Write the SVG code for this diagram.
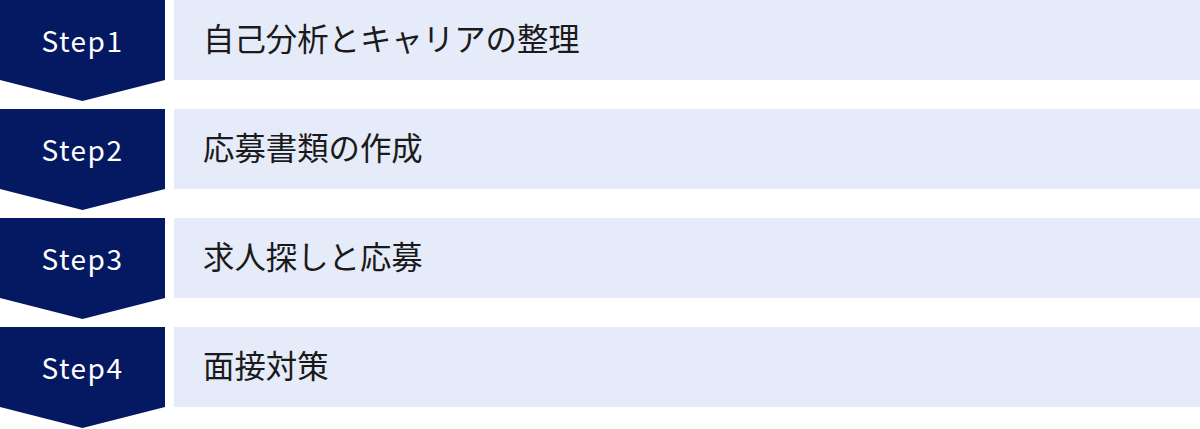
<svg xmlns="http://www.w3.org/2000/svg" width="1200" height="429" viewBox="0 0 1200 429">
<style>
.badge{fill:#051862}
.panel{fill:#E5EBF8}
.st{font-family:"Noto Sans CJK JP","Noto Sans",sans-serif;font-size:28px;font-weight:400;fill:#ffffff;letter-spacing:1.5px}
.lb{font-family:"Noto Sans CJK JP","Noto Sans",sans-serif;font-size:31.4px;font-weight:400;fill:#1a1a1a}
</style>
<defs>
<path id="chev" d="M0 0H165V80L82.5 101L0 80Z"/>
</defs>
<g id="step1">
<use href="#chev" class="badge"/>
<rect class="panel" x="174" y="0" width="1026" height="80"/>
<text class="st" x="82.5" y="52" text-anchor="middle">Step1</text>
<text class="lb" x="203" y="51">自己分析とキャリアの整理</text>
</g>
<g id="step2" transform="translate(0,109)">
<use href="#chev" class="badge"/>
<rect class="panel" x="174" y="0" width="1026" height="80"/>
<text class="st" x="82.5" y="52" text-anchor="middle">Step2</text>
<text class="lb" x="203" y="51">応募書類の作成</text>
</g>
<g id="step3" transform="translate(0,218)">
<use href="#chev" class="badge"/>
<rect class="panel" x="174" y="0" width="1026" height="80"/>
<text class="st" x="82.5" y="52" text-anchor="middle">Step3</text>
<text class="lb" x="203" y="51">求人探しと応募</text>
</g>
<g id="step4" transform="translate(0,327)">
<use href="#chev" class="badge"/>
<rect class="panel" x="174" y="0" width="1026" height="80"/>
<text class="st" x="82.5" y="52" text-anchor="middle">Step4</text>
<text class="lb" x="203" y="51">面接対策</text>
</g>
<g id="connectors"></g>
</svg>
